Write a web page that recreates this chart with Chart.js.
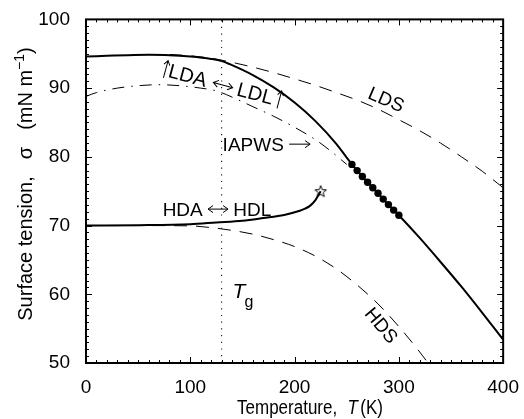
<!DOCTYPE html>
<html>
<head>
<meta charset="utf-8">
<script src="https://cdn.jsdelivr.net/npm/chart.js@4.4.1/dist/chart.umd.min.js"></script>
<style>
  html, body { margin: 0; padding: 0; background: #fff; }
  canvas { display: block; }
</style>
</head>
<body>
<canvas id="myChart" width="524" height="419"></canvas>
<script>
var FONT = '"Liberation Sans", Arial, Helvetica, sans-serif';

// solid curve: LDA <-> LDL, running on into the liquid at high T
var mainT = [0, 20, 40, 60, 80, 100, 120, 130, 140, 160, 180, 200, 220, 240, 250, 260, 270, 280, 290, 300, 320, 340, 360, 380, 400];
var mainSigma = [94.6, 94.7, 94.8, 94.85, 94.8, 94.6, 94.25, 93.95, 93.35, 91.9, 90.1, 87.9, 85.2, 81.9, 79.9, 78.0, 76.3, 74.7, 73.05, 71.5, 68.2, 64.7, 61.1, 57.3, 53.4];

// measured points (filled circles)
var dotT = [255, 260, 265, 270, 275, 280, 285, 290, 295, 300];
var dotSigma = [78.9, 78.0, 77.15, 76.3, 75.5, 74.7, 73.85, 73.05, 72.25, 71.5];

// IAPWS extrapolation (dash-dot)
var iapwsT = [0, 10, 30, 50, 70, 90, 110, 125, 140, 160, 180, 200, 220, 235, 250];
var iapwsSigma = [88.8, 89.35, 90.0, 90.35, 90.5, 90.35, 90.0, 89.6, 88.7, 87.3, 85.9, 84.3, 82.5, 80.8, 78.9];

// LDS (dashed)
var ldsT = [80, 100, 120, 140, 160, 180, 200, 220, 240, 260, 280, 300, 320, 340, 360, 380, 400];
var ldsSigma = [94.9, 94.7, 94.35, 93.75, 93.05, 92.25, 91.35, 90.4, 89.35, 88.25, 86.95, 85.4, 83.8, 82.0, 80.0, 77.9, 75.5];

// HDS (dashed)
var hdsT = [0, 50, 100, 120, 140, 160, 180, 200, 220, 240, 260, 280, 300, 320, 328];
var hdsSigma = [70.0, 70.0, 69.95, 69.7, 69.3, 68.75, 67.95, 66.95, 65.55, 63.7, 61.35, 58.6, 55.3, 51.6, 50.0];

// HDA <-> HDL (solid), ends at the star
var hdaT = [0, 50, 100, 125, 150, 170, 190, 205, 210, 215, 220, 225];
var hdaSigma = [70.0, 70.05, 70.2, 70.45, 70.7, 71.1, 71.55, 72.15, 72.45, 72.9, 73.7, 75.0];
var starT = [225];
var starSigma = [75.0];

// glass transition
var tgT = [130, 130];
var tgSigma = [50, 100];

var xTicks = [0, 100, 200, 300, 400];
var yTicks = [50, 60, 70, 80, 90, 100];

function pts(xs, ys) {
    return xs.map(function(x, i) { return { x: x, y: ys[i] }; });
}

// open five-pointed star used as point style
function makeStar() {
    var c = document.createElement('canvas');
    c.width = 14; c.height = 14;
    var g = c.getContext('2d');
    g.beginPath();
    for (var i = 0; i < 10; i++) {
        var r = i % 2 === 0 ? 6 : 2.6;
        var a = -Math.PI / 2 + i * Math.PI / 5;
        var px = 7 + r * Math.cos(a), py = 7.5 + r * Math.sin(a);
        if (i === 0) g.moveTo(px, py); else g.lineTo(px, py);
    }
    g.closePath();
    g.fillStyle = '#fff';
    g.fill();
    g.strokeStyle = '#000';
    g.lineWidth = 1;
    g.stroke();
    return c;
}

// thin arrows drawn by hand, baseline at y = 0
var ARROW_W = { lr: 20, r: 21, up: 7 };
function drawArrow(ctx, kind, x) {
    var w = ARROW_W[kind];
    ctx.beginPath();
    if (kind === 'up') {
        var cx = x + w / 2;
        ctx.moveTo(cx, 2); ctx.lineTo(cx, -16);
        ctx.moveTo(cx - 3, -11.5); ctx.lineTo(cx, -16); ctx.lineTo(cx + 3, -11.5);
    } else {
        var y = -6.5;
        ctx.moveTo(x, y); ctx.lineTo(x + w, y);
        ctx.moveTo(x + w - 5, y - 3.5); ctx.lineTo(x + w, y); ctx.lineTo(x + w - 5, y + 3.5);
        if (kind === 'lr') {
            ctx.moveTo(x + 5, y - 3.5); ctx.lineTo(x, y); ctx.lineTo(x + 5, y + 3.5);
        }
    }
    ctx.stroke();
    return w;
}

function drawRun(ctx, parts) {
    var x = 0;
    parts.forEach(function(p) {
        if (typeof p === 'string') {
            ctx.fillText(p, x, 0);
            x += ctx.measureText(p).width;
        } else if (p.g) {
            x += p.g;
        } else {
            x += drawArrow(ctx, p.a, x);
        }
    });
}

var notes = [
    { parts: ['IAPWS ', { a: 'r' }], x: 131, y: 80.9, rot: 0, size: 19 },
    { parts: ['HDA ', { a: 'lr' }, ' HDL'], x: 73.5, y: 71.45, rot: 0, size: 19 },
    { parts: [{ a: 'up' }, 'LDA', { g: 7 }, { a: 'lr' }, { g: 5 }, 'LDL', { g: 3 }, { a: 'up' }], x: 71.5, y: 91.9, rot: 15, size: 20 },
    { text: 'LDS', x: 287.5, y: 88.2, rot: 23, size: 19 },
    { text: 'HDS', x: 282.5, y: 55.4, rot: 50, size: 19 }
];

var framePlugin = {
    id: 'frame',
    afterDraw: function(chart) {
        var ctx = chart.ctx, a = chart.chartArea;
        var xs = chart.scales.x, ys = chart.scales.y;
        ctx.save();
        ctx.strokeStyle = '#000';
        ctx.lineWidth = 1;
        ctx.beginPath();
        for (var t = 0; t <= 400; t += 10) {
            var px = Math.round(xs.getPixelForValue(t)) + 0.5;
            var len = t % 100 === 0 ? 6 : 3;
            ctx.moveTo(px, a.bottom); ctx.lineTo(px, a.bottom - len);
            ctx.moveTo(px, a.top); ctx.lineTo(px, a.top + len);
        }
        for (var s = 50; s <= 100; s += 1) {
            var py = Math.round(ys.getPixelForValue(s)) + 0.5;
            var l2 = s % 10 === 0 ? 6 : 3;
            ctx.moveTo(a.left, py); ctx.lineTo(a.left + l2, py);
            ctx.moveTo(a.right, py); ctx.lineTo(a.right - l2, py);
        }
        ctx.stroke();
        ctx.lineWidth = 2;
        ctx.strokeRect(a.left, a.top, a.right - a.left, a.bottom - a.top);

        // annotations
        ctx.fillStyle = '#000';
        ctx.lineWidth = 1;
        notes.forEach(function(n) {
            ctx.save();
            ctx.font = n.size + 'px ' + FONT;
            ctx.translate(xs.getPixelForValue(n.x), ys.getPixelForValue(n.y));
            ctx.rotate(n.rot * Math.PI / 180);
            if (n.parts) {
                ctx.textAlign = 'left';
                ctx.textBaseline = 'alphabetic';
                drawRun(ctx, n.parts);
            } else {
                ctx.textAlign = 'center';
                ctx.textBaseline = 'middle';
                ctx.fillText(n.text, 0, 0);
            }
            ctx.restore();
        });

        // T_g
        var tx = xs.getPixelForValue(140.5), ty = ys.getPixelForValue(59.5);
        ctx.font = 'italic 21px ' + FONT;
        ctx.textAlign = 'left';
        ctx.textBaseline = 'alphabetic';
        ctx.fillText('T', tx, ty);
        ctx.font = '16px ' + FONT;
        ctx.fillText('g', tx + 12, ty + 9);

        // x axis title (drawn a little narrow, as in the original)
        ctx.save();
        ctx.translate(310, 414);
        ctx.scale(0.85, 1);
        ctx.font = '20px ' + FONT;
        var p1 = 'Temperature,', p3 = '(K)';
        var w1 = ctx.measureText(p1).width, w3 = ctx.measureText(p3).width;
        ctx.font = 'italic 20px ' + FONT;
        var w2 = ctx.measureText('T').width;
        var gap1 = 12, gap2 = 3;
        var total = w1 + gap1 + w2 + gap2 + w3;
        var x0 = -total / 2;
        ctx.font = '20px ' + FONT;
        ctx.fillText(p1, x0, 0);
        ctx.font = 'italic 20px ' + FONT;
        ctx.fillText('T', x0 + w1 + gap1, 0);
        ctx.font = '20px ' + FONT;
        ctx.fillText(p3, x0 + w1 + gap1 + w2 + gap2, 0);
        ctx.restore();

        // y axis title
        ctx.save();
        ctx.translate(32, 184);
        ctx.rotate(-Math.PI / 2);
        ctx.font = '20px ' + FONT;
        var q1 = 'Surface tension,', q2 = '\u03c3', q3 = '(mN m', q5 = ')';
        var v1 = ctx.measureText(q1).width, v2 = ctx.measureText(q2).width;
        var v3 = ctx.measureText(q3).width, v5 = ctx.measureText(q5).width;
        ctx.font = '14px ' + FONT;
        var v4 = ctx.measureText('\u22121').width;
        var g1 = 17, g2 = 17;
        var tot = v1 + g1 + v2 + g2 + v3 + v4 + v5;
        var sx = -tot / 2;
        ctx.font = '20px ' + FONT;
        ctx.fillText(q1, sx, 0); sx += v1 + g1;
        ctx.fillText(q2, sx, 0); sx += v2 + g2;
        ctx.fillText(q3, sx, 0); sx += v3;
        ctx.font = '14px ' + FONT;
        ctx.fillText('\u22121', sx, -8); sx += v4;
        ctx.font = '20px ' + FONT;
        ctx.fillText(q5, sx, 0);
        ctx.restore();

        ctx.restore();
    }
};

var config = {
    type: 'scatter',
    data: {
        datasets: [{
            data: pts(tgT, tgSigma),
            showLine: true, pointRadius: 0,
            borderColor: '#222', borderWidth: 1.2, borderDash: [1.2, 5.5]
        }, {
            data: pts(ldsT, ldsSigma),
            showLine: true, pointRadius: 0, cubicInterpolationMode: 'monotone',
            borderColor: '#000', borderWidth: 1, borderDash: [13, 9]
        }, {
            data: pts(hdsT, hdsSigma),
            showLine: true, pointRadius: 0, cubicInterpolationMode: 'monotone',
            borderColor: '#000', borderWidth: 1, borderDash: [13, 9]
        }, {
            data: pts(iapwsT, iapwsSigma),
            showLine: true, pointRadius: 0, cubicInterpolationMode: 'monotone',
            borderColor: '#000', borderWidth: 1, borderDash: [12, 7, 1.5, 7]
        }, {
            data: pts(mainT, mainSigma),
            showLine: true, pointRadius: 0, cubicInterpolationMode: 'monotone',
            borderColor: '#000', borderWidth: 2
        }, {
            data: pts(hdaT, hdaSigma),
            showLine: true, pointRadius: 0, cubicInterpolationMode: 'monotone',
            borderColor: '#000', borderWidth: 2
        }, {
            data: pts(dotT, dotSigma),
            showLine: false, pointRadius: 3.7,
            pointBackgroundColor: '#000', pointBorderColor: '#000', pointBorderWidth: 0
        }, {
            data: pts(starT, starSigma),
            showLine: false, pointStyle: makeStar(), pointRadius: 7
        }]
    },
    options: {
        responsive: false,
        animation: false,
        layout: { padding: { left: 0, right: 19, top: 14, bottom: 0 } },
        plugins: { legend: { display: false }, tooltip: { enabled: false } },
        scales: {
            x: {
                type: 'linear', min: 0, max: 400,
                grid: { display: false }, border: { display: false },
                afterBuildTicks: function(scale) {
                    scale.ticks = xTicks.map(function(v) { return { value: v }; });
                },
                ticks: { color: '#000', font: { family: FONT, size: 19 }, padding: 5, maxRotation: 0 },
                afterFit: function(scale) { scale.height = 56; }
            },
            y: {
                type: 'linear', min: 50, max: 100,
                grid: { display: false }, border: { display: false },
                afterBuildTicks: function(scale) {
                    scale.ticks = yTicks.map(function(v) { return { value: v }; });
                },
                ticks: { color: '#000', font: { family: FONT, size: 19 }, padding: 8 },
                afterFit: function(scale) { scale.width = 86; }
            }
        }
    },
    plugins: [framePlugin]
};

new Chart(document.getElementById('myChart').getContext('2d'), config);
</script>
</body>
</html>
